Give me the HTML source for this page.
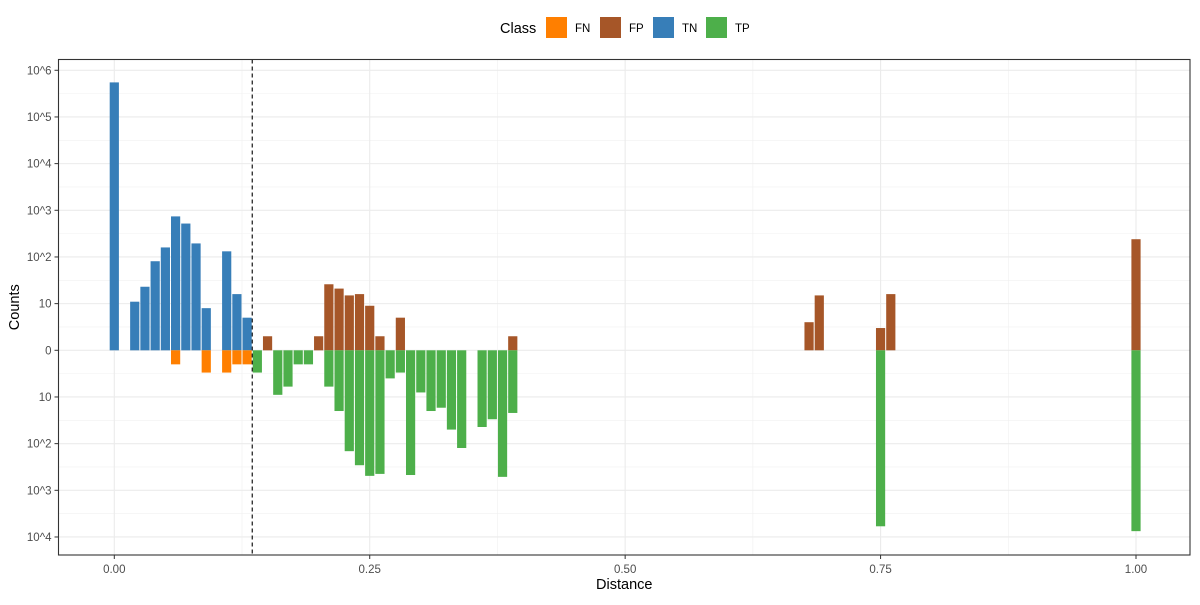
<!DOCTYPE html>
<html><head><meta charset="utf-8"><style>
body{margin:0;background:#fff;font-family:"Liberation Sans",Arial,sans-serif}
</style></head><body>
<svg id="chart" width="1200" height="600" xmlns="http://www.w3.org/2000/svg" font-family="Liberation Sans, Arial, sans-serif">
<g id="grid"></g>
<g id="bars"></g>
<g id="axes"></g>
<g id="legend"></g>
</svg>
<script>
const tnX=[0.00,0.02,0.03,0.04,0.05,0.06,0.07,0.08,0.09,0.11,0.12,0.13];
const tnCounts=[550000,11,23,81,160,740,520,195,8,132,16,5];
const fnX=[0.06,0.09,0.11,0.12,0.13];
const fnCounts=[2,3,3,2,2];
const fpX=[0.15,0.20,0.21,0.22,0.23,0.24,0.25,0.26,0.28,0.39,0.68,0.69,0.75,0.76,1.00];
const fpCounts=[2,2,26,21,15,16,9,2,5,2,4,15,3,16,240];
const tpX=[0.14,0.16,0.17,0.18,0.19,0.21,0.22,0.23,0.24,0.25,0.26,0.27,0.28,0.29,0.30,0.31,0.32,0.33,0.34,0.36,0.37,0.38,0.39,0.75,1.00];
const tpCounts=[3,9,6,2,2,6,20,145,290,490,445,4,3,470,8,20,17,50,124,44,30,515,22,5900,7500];
const threshold=0.135;
const yTicks=[6,5,4,3,2,1,0,-1,-2,-3,-4];
const yTickLabels=["10^6","10^5","10^4","10^3","10^2","10","0","10","10^2","10^3","10^4"];
const xTicks=[0,0.25,0.5,0.75,1];
const xTickLabels=["0.00","0.25","0.50","0.75","1.00"];
const classes=["FN","FP","TN","TP"];
const colors=["#FF7F00","#A65628","#377EB8","#4DAF4A"];

const NS="http://www.w3.org/2000/svg";
const L=58.5,R=1190,T=59.5,B=555;
const sx=v=>114.3+v*1021.7;
const sy=v=>350.3-v*46.67;
function mk(tag,attrs,parent,text){const e=document.createElementNS(NS,tag);for(const k in attrs)e.setAttribute(k,attrs[k]);if(text!==undefined)e.textContent=text;parent.appendChild(e);return e;}
const grid=document.getElementById('grid'),bars=document.getElementById('bars'),axes=document.getElementById('axes'),leg=document.getElementById('legend');
mk('rect',{x:L,y:T,width:R-L,height:B-T,fill:'#fff'},grid);
// minor grid
for(let i=0;i<yTicks.length-1;i++){const y=sy((yTicks[i]+yTicks[i+1])/2);const g=mk('line',{x1:L,x2:R,y1:y,y2:y,stroke:'#f0f0f0','stroke-width':0.6},grid);}
for(let i=0;i<xTicks.length-1;i++){const x=sx((xTicks[i]+xTicks[i+1])/2);const g=mk('line',{x1:x,x2:x,y1:T,y2:B,stroke:'#f0f0f0','stroke-width':0.6},grid);}
yTicks.forEach((t,i)=>{const y=sy(t);const g=mk('line',{x1:L,x2:R,y1:y,y2:y,stroke:'#ebebeb','stroke-width':1.1},grid);
 const tk=mk('line',{x1:L-4,x2:L,y1:y,y2:y,stroke:'#333','stroke-width':1},axes);
 const tl=mk('text',{x:L-7,y:y+4,'text-anchor':'end','font-size':11.5,fill:'#4d4d4d'},axes,yTickLabels[i]);});
xTicks.forEach((t,i)=>{const x=sx(t);const g=mk('line',{x1:x,x2:x,y1:T,y2:B,stroke:'#ebebeb','stroke-width':1.1},grid);
 const tk=mk('line',{x1:x,x2:x,y1:B,y2:B+4,stroke:'#333','stroke-width':1},axes);
 const tl=mk('text',{x:x,y:B+18,'text-anchor':'middle','font-size':11.5,fill:'#4d4d4d'},axes,xTickLabels[i]);});
function drawBars(xs,cs,dir,color,name){xs.forEach((xv,i)=>{const v=Math.log10(cs[i])*dir;const x=sx(xv)-4.6;const y0=sy(0),y1=sy(v);
 const r=mk('rect',{x:x,y:Math.min(y0,y1),width:9.2,height:Math.abs(y1-y0),fill:color},bars);});}
drawBars(tnX,tnCounts,1,colors[2],'bar-tn');
drawBars(fpX,fpCounts,1,colors[1],'bar-fp');
drawBars(fnX,fnCounts,-1,colors[0],'bar-fn');
drawBars(tpX,tpCounts,-1,colors[3],'bar-tp');
const th=mk('line',{x1:sx(threshold),x2:sx(threshold),y1:T,y2:B,stroke:'#000','stroke-width':1.1,'stroke-dasharray':'4,3'},bars);

const border=mk('rect',{x:L,y:T,width:R-L,height:B-T,fill:'none',stroke:'#333','stroke-width':1.1},axes);

const xt=mk('text',{x:(L+R)/2,y:589,'text-anchor':'middle','font-size':14.5,fill:'#000'},axes,'Distance');

const yt=mk('text',{x:19,y:(T+B)/2,'text-anchor':'middle','font-size':14.5,fill:'#000',transform:'rotate(-90 19 '+((T+B)/2)+')'},axes,'Counts');

const lt=mk('text',{x:500,y:33,'font-size':14.5,fill:'#000'},leg,'Class');

const lx=[546,600,653,706];
classes.forEach((c,i)=>{const g=mk('g',{},leg);
 mk('rect',{x:lx[i],y:17,width:21,height:21,fill:colors[i]},g);
 mk('text',{x:lx[i]+29,y:32,'font-size':11.5,fill:'#000'},g,c);});
</script>
</body></html>
